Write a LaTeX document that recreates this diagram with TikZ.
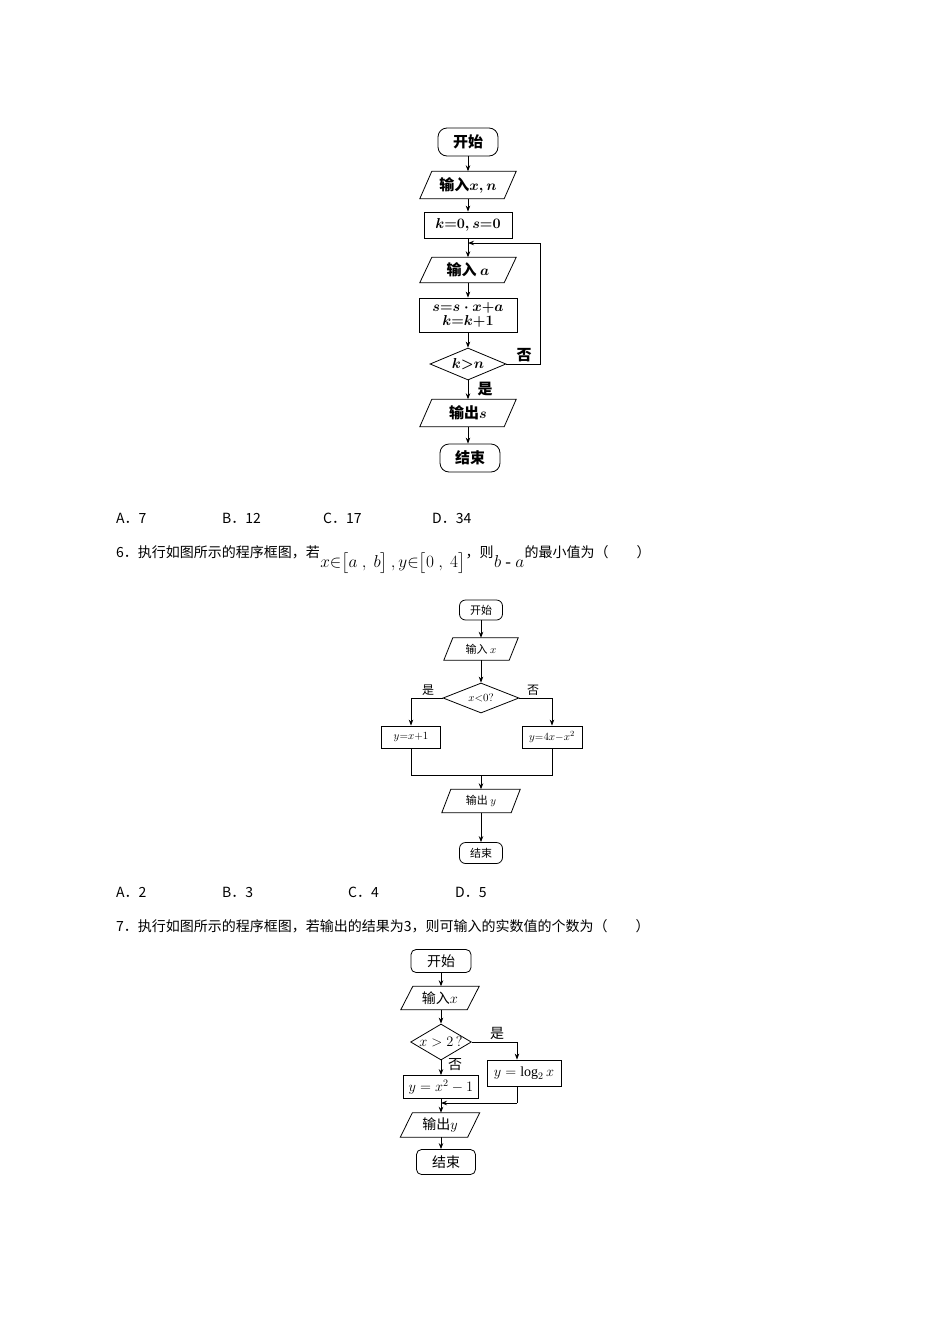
\documentclass[tikz,border=0pt]{standalone}
\usepackage{amsmath}
\usepackage{fontspec}
\setmainfont{Liberation Serif}
\newfontfamily\cjk{Noto Sans CJK SC}
\usetikzlibrary{arrows.meta,shapes.geometric}
\newcommand{\para}[7]{% name, cx, cy, w, h, slant, text
  \node[minimum width=#4pt,minimum height=#5pt,inner sep=0pt] (#1) at (#2,#3) {#7};
  \draw[thick] ([xshift=#6pt]#1.north west) -- (#1.north east) -- ([xshift=-#6pt]#1.south east) -- (#1.south west) -- cycle;}
\begin{document}
\begin{tikzpicture}[x=1pt,y=-1pt,
  every node/.style={font=\cjk\fontsize{13}{15}\selectfont},
  term/.style={draw,thick,rounded corners=9pt,inner sep=0pt},
  proc/.style={draw,thick,inner sep=0pt},
  dec/.style={draw,thick,diamond,inner sep=0pt,shape aspect=2.3},
  arr/.style={thick,-{Stealth[length=6pt,width=4.5pt]}},
  ln/.style={thick},
  txt/.style={anchor=base west,inner sep=0pt,font=\cjk\fontsize{14}{16}\selectfont},
  lbl/.style={inner sep=0pt,font=\cjk\fontsize{14}{16}\selectfont}]
\fill[white] (0,0) rectangle (950,1344);
\useasboundingbox (0,0) rectangle (950,1344);
% ---------- chart 1 ----------
\begin{scope}[every node/.append style={font=\cjk\bfseries\fontsize{15}{16}\selectfont}]
\node[term,minimum width=60pt,minimum height=28pt] (s1) at (468,142) {开始};
\para{i1}{468}{185}{96}{27}{12}{输入$\boldsymbol{x,n}$}
\node[proc,minimum width=88pt,minimum height=26pt] (k1) at (468,225) {$\boldsymbol{k{=}0,s{=}0}$};
\coordinate (j1) at (468,243);
\para{a1}{468}{270}{96}{25}{12}{输入 $\boldsymbol{a}$}
\node[proc,minimum width=98pt,minimum height=34pt,align=center,font=\fontsize{14}{14}\selectfont] (p1) at (468,315) {$\boldsymbol{s{=}s\cdot x{+}a}$\\$\boldsymbol{k{=}k{+}1}$};
\node[dec,minimum width=76pt,minimum height=32pt] (d1) at (468,364) {$\boldsymbol{k{>}n}$};
\para{o1}{468}{413}{96}{27}{12}{输出$\boldsymbol{s}$}
\node[term,minimum width=60pt,minimum height=28pt] (e1) at (470,458) {结束};
\end{scope}
\draw[arr] (s1) -- (i1);
\draw[arr] (i1) -- (k1);
\draw[ln] (k1) -- (j1);
\draw[arr] (j1) -- (a1);
\draw[arr] (a1) -- (p1);
\draw[arr] (p1) -- (d1);
\draw[arr] (d1) -- (o1);
\draw[arr] (o1) -- (e1.north -| o1);
\coordinate (c1) at (540,364);
\coordinate (c2) at (540,243);
\draw[ln] (d1.east) -- (c1) -- (c2);
\draw[arr] (c2) -- (j1);
\node[lbl,font=\cjk\bfseries\fontsize{15}{16}\selectfont] (n1) at (524,355) {否};
\node[lbl,font=\cjk\bfseries\fontsize{15}{16}\selectfont] (y1) at (485,389) {是};
% ---------- text ----------
\node[txt] (tA) at (116,523) {A．7};
\node[txt] (tB) at (222,523) {B．12};
\node[txt] (tC) at (323,523) {C．17};
\node[txt] (tD) at (432,523) {D．34};
\node[txt] (q6a) at (116,557) {6．执行如图所示的程序框图，若};
\node[txt,font=\fontsize{17}{18}\selectfont,yshift=-10pt] (q6b) at (q6a.base east) {$x{\in}\bigl[a\ ,\ b\bigr]\,,y{\in}\bigl[0\ ,\ 4\bigr]$};
\node[txt,yshift=10pt] (q6c) at (q6b.base east) {，则};
\node[txt,font=\fontsize{17}{18}\selectfont,yshift=-10pt] (q6d) at (q6c.base east) {$b$ - $a$};
\node[txt,yshift=10pt] (q6e) at (q6d.base east) {的最小值为（　　）};
% ---------- chart 2 ----------
\begin{scope}[every node/.append style={font=\cjk\fontsize{11}{12}\selectfont}]
\node[term,rounded corners=6pt,minimum width=43pt,minimum height=20pt] (s2) at (481,610) {开始};
\para{i2}{481}{649}{74}{22}{9}{输入 $x$}
\node[dec,minimum width=76pt,minimum height=30pt] (d2) at (481,698) {$x{<}0?$};
\node[proc,minimum width=59pt,minimum height=22pt] (b2l) at (411,737) {$y{=}x{+}1$};
\node[proc,minimum width=60pt,minimum height=22pt] (b2r) at (552,737) {$y{=}4x{-}x^2$};
\para{o2}{481}{801}{78}{23}{9}{输出 $y$}
\node[term,rounded corners=6pt,minimum width=43pt,minimum height=21pt] (e2) at (481,853) {结束};
\node[lbl,font=\cjk\fontsize{12}{13}\selectfont] (y2) at (428,690) {是};
\node[lbl,font=\cjk\fontsize{12}{13}\selectfont] (n2) at (533,690) {否};
\end{scope}
\draw[arr] (s2) -- (i2);
\draw[arr] (i2) -- (d2);
\draw[arr] (d2.west) -| (b2l.north);
\draw[arr] (d2.east) -| (b2r.north);
\coordinate (m2) at (481,775);
\draw[ln] (b2l.south) |- (m2);
\draw[ln] (b2r.south) |- (m2);
\draw[arr] (m2) -- (o2);
\draw[arr] (o2) -- (e2);
% ---------- text ----------
\node[txt] (uA) at (116,897) {A．2};
\node[txt] (uB) at (222,897) {B．3};
\node[txt] (uC) at (348,897) {C．4};
\node[txt] (uD) at (455,897) {D．5};
\node[txt] (q7) at (116,931) {7．执行如图所示的程序框图，若输出的结果为3，则可输入的实数值的个数为（　　）};
% ---------- chart 3 ----------
\begin{scope}[every node/.append style={font=\cjk\fontsize{14}{15}\selectfont}]
\node[term,rounded corners=5pt,minimum width=60pt,minimum height=23pt] (s3) at (441,961) {开始};
\para{i3}{440}{998}{78}{23}{12}{输入$x$}
\node[dec,minimum width=60pt,minimum height=36pt,shape aspect=1.7] (d3) at (441,1042) {$x>2\,?$};
\node[proc,minimum width=74pt,minimum height=26pt] (b3r) at (524,1073) {$y=\log_2 x$};
\node[proc,minimum width=75pt,minimum height=23pt] (b3l) at (441,1087) {$y=x^2-1$};
\para{o3}{440}{1125}{79}{24}{12}{输出$y$}
\node[term,rounded corners=5pt,minimum width=59pt,minimum height=25pt] (e3) at (446,1162) {结束};
\node[lbl] (y3) at (497,1033) {是};
\node[lbl] (n3) at (455,1065) {否};
\end{scope}
\draw[arr] (s3) -- (i3.north -| s3);
\draw[arr] (i3.south -| s3) -- (d3);
\coordinate (r3) at (517,1042);
\draw[ln] (d3.east) -- (r3);
\draw[arr] (r3) -- (r3 |- b3r.north);
\draw[arr] (d3) -- (b3l);
\coordinate (m3) at (441,1103);
\coordinate (r3b) at (517,1103);
\draw[ln] (r3 |- b3r.south) -- (r3b);
\draw[arr] (r3b) -- (m3);
\draw[ln] (b3l) -- (m3);
\draw[arr] (m3) -- (o3.north -| m3);
\draw[arr] (o3.south -| m3) -- (e3.north -| m3);
\end{tikzpicture}
\end{document}
